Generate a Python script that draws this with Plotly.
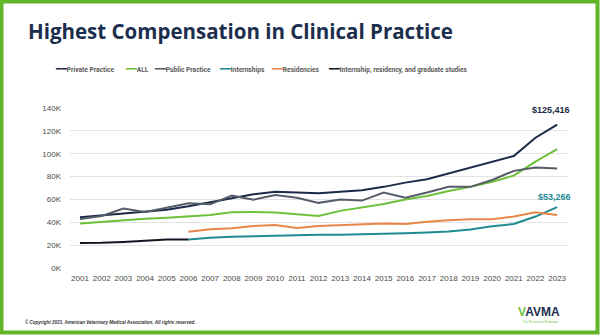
import plotly.graph_objects as go

years = list(range(2001, 2024))
private_practice = [44.5, 46, 47.5, 49, 51, 54, 57.5, 61, 64.5, 66.8, 66, 65.3, 66.8, 68, 71, 74.7, 77.6, 82.8, 87.8, 93, 98, 114, 125.416]
all_vals = [39, 40.5, 41.5, 43, 44, 45.5, 46.4, 48.7, 49, 48.5, 47, 45.5, 50, 52.8, 56, 60, 63, 67.4, 71, 75.5, 80.8, 93, 104]
public_practice = [42.9, 45.5, 52, 49, 52.8, 56.6, 55.7, 63.3, 59.8, 63.9, 61.5, 57, 60, 59, 66, 61.5, 66, 71, 71, 77, 85, 88, 87]
years_late = list(range(2006, 2024))
internships = [25, 26.5, 27.3, 27.8, 28, 28.5, 29, 29, 29.3, 29.8, 30.3, 31, 32, 33.7, 36.5, 38.5, 45, 53.266]
residencies = [31.8, 34, 34.7, 36.7, 37.6, 35, 36.7, 37.6, 37.9, 39, 38.5, 40.5, 41.7, 42.6, 42.6, 45, 48.7, 46.4]
years_early = list(range(2001, 2007))
irg_studies = [21.9, 22, 22.8, 23.8, 25, 25]
y_ticks = [0, 20, 40, 60, 80, 100, 120, 140]
y_labels = ["0K", "20K", "40K", "60K", "80K", "100K", "120K", "140K"]

series_names = ["Private Practice", "ALL", "Public Practice", "Internships", "Residencies",
                "Internship, residency, and graduate studies"]
series_colors = ["#1b2a48", "#6cc03a", "#555d68", "#1f8a94", "#e8864a", "#111722"]
legend_x_px = [53, 123, 152, 217, 269, 326]

L, R, T, B = 70, 32, 108, 67
PW, PH = 600 - L - R, 335 - T - B


def px_x(px):
    return (px - L) / PW


def px_y(py):
    return (335 - B - py) / PH


def k(vals):
    return [v * 1000 for v in vals]


fig = go.Figure()
data = [(years, private_practice), (years, all_vals), (years, public_practice),
        (years_late, internships), (years_late, residencies), (years_early, irg_studies)]
for (xs, ys), name, color in zip(data, series_names, series_colors):
    fig.add_trace(go.Scatter(x=xs, y=k(ys), name=name, mode="lines", showlegend=False,
                             line=dict(color=color, width=2)))

# legend drawn as text
for name, color, lx in zip(series_names, series_colors, legend_x_px):
    fig.add_annotation(xref="paper", yref="paper", x=px_x(lx), y=px_y(69), xanchor="left", yanchor="middle",
                       showarrow=False,
                       text=f"<span style='color:{color};font-family:DejaVu Sans;font-size:9px'>━━</span><b>{name}</b>",
                       font=dict(size=6.6, color="#5a5a5a", family="Roboto"))

fig.add_annotation(x=years[-1], y=private_practice[-1] * 1000, text="<b>$125,416</b>", showarrow=False,
                   yshift=15, xshift=-6, font=dict(size=9, color="#1b2a48", family="Liberation Sans"))
fig.add_annotation(x=years_late[-1], y=internships[-1] * 1000, text="<b>$53,266</b>", showarrow=False,
                   yshift=10, xshift=-3, font=dict(size=9, color="#1f8a94", family="Liberation Sans"))

# title
fig.add_annotation(xref="paper", yref="paper", x=px_x(26), y=px_y(31), xanchor="left", yanchor="middle",
                   text="<b>Highest Compensation in Clinical Practice</b>", showarrow=False,
                   font=dict(size=20.5, color="#1c2e4e", family="Open Sans"))
# footer
fig.add_annotation(xref="paper", yref="paper", x=px_x(23), y=px_y(322), xanchor="left", yanchor="middle",
                   text="<b><i>© Copyright 2023. American Veterinary Medical Association. All rights reserved.</i></b>",
                   showarrow=False, font=dict(size=4.5, color="#333333", family="Liberation Sans"))
fig.add_annotation(xref="paper", yref="paper", x=px_x(516), y=px_y(312), xanchor="left", yanchor="middle",
                   text="<b><span style='color:#6cc03a'>V</span>AVMA</b>", showarrow=False,
                   font=dict(size=12, color="#1c2e4e", family="Liberation Sans"))
fig.add_annotation(xref="paper", yref="paper", x=px_x(521), y=px_y(322), xanchor="left", yanchor="middle",
                   text="Our Passion for Protection", showarrow=False,
                   font=dict(size=3, color="#6cc03a", family="Liberation Sans"))

# green border
fig.add_shape(type="rect", xref="paper", yref="paper", x0=px_x(1.5), x1=px_x(597.5), y0=px_y(332.5),
              y1=px_y(1.5), line=dict(color="#63b52a", width=4), fillcolor="rgba(0,0,0,0)", layer="above")

fig.update_layout(
    width=600, height=335,
    margin=dict(l=L, r=R, t=T, b=B),
    plot_bgcolor="white", paper_bgcolor="white",
    showlegend=False,
    xaxis=dict(range=[2000.54, 2023.5], tickmode="array", tickvals=years,
               ticktext=[str(y) for y in years], showgrid=False, zeroline=False,
               tickfont=dict(size=8, color="#4a4a4a", family="Liberation Sans"), showline=False,
               ticklabelstandoff=4),
    yaxis=dict(range=[0, 140000], tickmode="array", tickvals=[v * 1000 for v in y_ticks],
               ticktext=y_labels, showgrid=True, gridcolor="#e3e3e3", gridwidth=1, zeroline=False,
               tickfont=dict(size=8, color="#4a4a4a", family="Liberation Sans"), ticklabelstandoff=8),
)

fig.write_html("out.html")
